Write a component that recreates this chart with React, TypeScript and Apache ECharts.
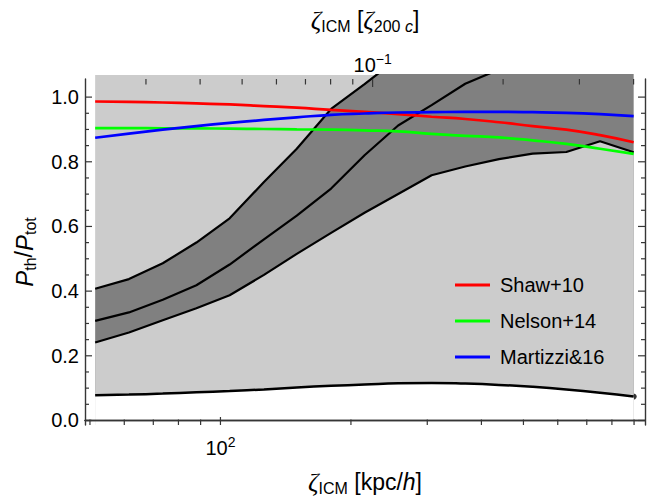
import React, { useEffect, useRef } from 'react';
import * as echarts from 'echarts';

const FONT = 'Liberation Sans, Arial, Helvetica, sans-serif';
const SERIF = 'Liberation Serif, Times New Roman, serif';
const INK = '#000000';
const FRAME = '#363636';
const LIGHT = '#cccccc';
const DARK = '#808080';

// conversion between the two abscissae: zeta / zeta_200c = r[kpc/h] / R200
const R200 = 2244;
// visible abscissa range (kpc/h) and ordinate range of the frame
const X_RANGE = [48.7, 953.7];
const Y_RANGE = [-0.014, 1.056];
// the shaded regions and curves are clipped slightly above the frame
const Y_CLIP_TOP = 1.068;

// radial sampling of the profiles (kpc/h)
const radiusKpc = [51.4, 61.5, 73.6, 88.0, 105, 126, 150, 180, 215, 257, 307, 367, 439, 525, 628, 751, 898];

// envelope of the simulated profiles
const bandUpper = [0.407, 0.437, 0.486, 0.55, 0.625, 0.737, 0.84, 0.963, 1.04, 1.12, 1.2, 1.27, 1.33, 1.39, 1.44, 1.49, 1.54];
const bandMiddle = [0.308, 0.334, 0.373, 0.418, 0.482, 0.56, 0.633, 0.717, 0.82, 0.912, 0.975, 1.041, 1.085, 1.13, 1.17, 1.21, 1.25];
const bandLower = [0.241, 0.272, 0.31, 0.347, 0.387, 0.45, 0.515, 0.58, 0.642, 0.7, 0.758, 0.785, 0.808, 0.825, 0.83, 0.863, 0.829];
const floorCurve = [0.078, 0.08, 0.083, 0.087, 0.091, 0.096, 0.102, 0.107, 0.111, 0.115, 0.116, 0.114, 0.11, 0.104, 0.096, 0.086, 0.074];

// published fits
const shaw10 = [0.986, 0.985, 0.983, 0.98, 0.977, 0.972, 0.967, 0.96, 0.954, 0.947, 0.939, 0.932, 0.922, 0.91, 0.899, 0.882, 0.86];
const nelson14 = [0.904, 0.904, 0.903, 0.903, 0.902, 0.901, 0.9, 0.899, 0.897, 0.894, 0.886, 0.88, 0.875, 0.866, 0.855, 0.84, 0.824];
const martizzi16 = [0.874, 0.887, 0.899, 0.91, 0.92, 0.929, 0.937, 0.945, 0.949, 0.952, 0.953, 0.954, 0.954, 0.953, 0.951, 0.947, 0.941];

// ticks
const bottomMajor = [100];
const bottomMinor = [50, 60, 70, 80, 90, 200, 300, 400, 500, 600, 700, 800, 900];
const topMajor = [0.1];
const topMinor = [0.03, 0.04, 0.05, 0.06, 0.07, 0.08, 0.09, 0.2, 0.3, 0.4];
const yMajor = [0, 0.2, 0.4, 0.6, 0.8, 1.0];
const yMinor = [0.05, 0.1, 0.15, 0.25, 0.3, 0.35, 0.45, 0.5, 0.55, 0.65, 0.7, 0.75, 0.85, 0.9, 0.95];

const lg = Math.log10;

const powerLabel = (v: number) => {
  const e = Math.round(v);
  return `{b|10}{s|${e < 0 ? '\u2212' + -e : e}}`;
};

const tickRich = {
  b: { fontSize: 20, fontFamily: FONT, color: INK, lineHeight: 20 },
  s: { fontSize: 14, fontFamily: FONT, color: INK, lineHeight: 14, padding: [0, 0, 13, 0] },
};

const titleRich = {
  z: { fontSize: 26, fontFamily: SERIF, fontStyle: 'italic', color: INK, lineHeight: 26 },
  p: { fontSize: 24, fontFamily: FONT, fontStyle: 'italic', color: INK, lineHeight: 26 },
  t: { fontSize: 23, fontFamily: FONT, color: INK, lineHeight: 26 },
  ti: { fontSize: 23, fontFamily: FONT, fontStyle: 'italic', color: INK, lineHeight: 26 },
  sub: { fontSize: 16, fontFamily: FONT, color: INK, lineHeight: 16, padding: [12, 0, 0, 0] },
  subi: { fontSize: 16, fontFamily: FONT, fontStyle: 'italic', color: INK, lineHeight: 16, padding: [12, 0, 0, 0] },
};

const frameLine = { show: true, lineStyle: { color: FRAME, width: 1.4 } };
const hidden = { show: false };

function buildOption() {
  const xs = radiusKpc.map(lg);
  const pts = (ys: number[]) => xs.map((x, i) => [x, ys[i]]);
  const xMin = lg(X_RANGE[0]);
  const xMax = lg(X_RANGE[1]);
  const zMin = lg(X_RANGE[0] / R200);
  const zMax = lg(X_RANGE[1] / R200);

  const blackLine = { color: INK, width: 2.2 };

  // inward frame ticks: [x, y, dx, dy] in axis units + pixel offsets
  const tickData = [
    ...bottomMajor.map((v) => [lg(v), Y_RANGE[0], 0, -8]),
    ...bottomMinor.map((v) => [lg(v), Y_RANGE[0], 0, -5.5]),
    ...topMajor.map((v) => [lg(v * R200), Y_RANGE[1], 0, 8]),
    ...topMinor.map((v) => [lg(v * R200), Y_RANGE[1], 0, 5.5]),
    ...yMajor.map((v) => [xMin, v, 7, 0]),
    ...yMajor.map((v) => [xMax, v, -7, 0]),
    ...yMinor.map((v) => [xMin, v, 4, 0]),
    ...yMinor.map((v) => [xMax, v, -4, 0]),
  ];

  const area = (name: string, ys: number[], origin: string, color: string, line: any, smooth = false) => ({
    name,
    type: 'line',
    xAxisIndex: 4,
    yAxisIndex: 4,
    data: pts(ys),
    symbol: 'none',
    smooth,
    silent: true,
    lineStyle: line,
    areaStyle: { color, opacity: 1, origin },
  });

  const curve = (name: string, ys: number[], color: string, width: number, smooth: boolean) => ({
    name,
    type: 'line',
    xAxisIndex: 4,
    yAxisIndex: 4,
    data: pts(ys),
    symbol: 'none',
    smooth,
    silent: true,
    color,
    lineStyle: { color, width },
  });

  return {
    animation: false,
    backgroundColor: '#ffffff',
    grid: [
      { left: 85, right: 22, top: 79, bottom: 78 },
      { left: 85, right: 22, top: 75, bottom: 78 },
    ],
    legend: {
      data: ['Shaw+10', 'Nelson+14', 'Martizzi&16'],
      orient: 'vertical',
      left: 455,
      top: 275,
      padding: 0,
      itemWidth: 35,
      itemHeight: 3,
      itemGap: 16,
      icon: 'rect',
      selectedMode: false,
      textStyle: { fontSize: 20, fontFamily: FONT, color: INK, lineHeight: 20, padding: [0, 0, 0, 5] },
    },
    xAxis: [
      {
        type: 'value', gridIndex: 0, position: 'bottom', min: xMin, max: xMax, z: 10,
        axisLine: frameLine,
        axisTick: hidden,
        axisLabel: { show: true, margin: 13, customValues: bottomMajor.map(lg), formatter: powerLabel, rich: tickRich },
        splitLine: hidden,
        name: '{z|\u03b6}{sub|ICM}{t| [kpc/}{ti|h}{t|]}',
        nameLocation: 'middle',
        nameGap: 44,
        nameTextStyle: { rich: titleRich },
      },
      {
        type: 'value', gridIndex: 0, position: 'top', min: zMin, max: zMax, z: 10,
        axisLine: frameLine,
        axisTick: hidden,
        axisLabel: { show: true, margin: 4, customValues: topMajor.map(lg), formatter: powerLabel, rich: tickRich },
        splitLine: hidden,
        name: '{z|\u03b6}{sub|ICM}{t| [}{z|\u03b6}{sub|200 }{subi|c}{t|]}',
        nameLocation: 'middle',
        nameGap: 46,
        nameTextStyle: { rich: titleRich },
      },
      { type: 'value', gridIndex: 0, min: xMin, max: xMax, show: false },
      { type: 'value', gridIndex: 0, min: xMin, max: xMax, show: false },
      { type: 'value', gridIndex: 1, min: xMin, max: xMax, show: false },
    ],
    yAxis: [
      {
        type: 'value', gridIndex: 0, position: 'left', min: Y_RANGE[0], max: Y_RANGE[1], z: 10,
        axisLine: frameLine,
        axisTick: hidden,
        axisLabel: {
          show: true, margin: 6, customValues: yMajor,
          formatter: (v: number) => v.toFixed(1),
          fontSize: 20, fontFamily: FONT, color: INK,
        },
        splitLine: hidden,
        name: '{p|P}{sub|th}{t|/}{p|P}{sub|tot}',
        nameLocation: 'middle',
        nameRotate: 90,
        nameGap: 48,
        nameTextStyle: { rich: titleRich },
      },
      {
        type: 'value', gridIndex: 0, position: 'right', min: Y_RANGE[0], max: Y_RANGE[1], z: 10,
        axisLine: frameLine,
        axisTick: hidden,
        axisLabel: hidden,
        splitLine: hidden,
      },
      { type: 'value', gridIndex: 0, min: Y_RANGE[0], max: Y_RANGE[1], show: false },
      { type: 'value', gridIndex: 0, min: Y_RANGE[0], max: Y_RANGE[1], show: false },
      { type: 'value', gridIndex: 1, min: Y_RANGE[0], max: Y_CLIP_TOP, show: false },
    ],
    series: [
      // light region above the envelope
      area('aboveBand', bandUpper, 'end', LIGHT, { width: 0, opacity: 0 }),
      // dark envelope, its upper edge drawn in black
      area('band', bandUpper, 'start', DARK, blackLine),
      // light region between the floor and the envelope
      area('belowBand', bandLower, 'start', LIGHT, blackLine),
      // white below the floor curve
      area('floor', floorCurve, 'start', '#ffffff', { color: INK, width: 2.5 }, true),
      curve('median', bandMiddle, INK, 2.2, false),
      {
        name: 'floorEnd',
        type: 'scatter',
        xAxisIndex: 4,
        yAxisIndex: 4,
        silent: true,
        symbol: 'circle',
        symbolSize: 6,
        itemStyle: { color: INK },
        data: [[xs[xs.length - 1], floorCurve[floorCurve.length - 1]]],
        clip: false,
      },
      curve('Shaw+10', shaw10, '#ff0000', 2.7, true),
      curve('Nelson+14', nelson14, '#00ff00', 2.7, true),
      curve('Martizzi&16', martizzi16, '#0000ff', 2.7, true),
      {
        name: 'frameTicks',
        type: 'custom',
        xAxisIndex: 0,
        yAxisIndex: 0,
        silent: true,
        clip: false,
        z: 10,
        data: tickData,
        renderItem: (_params: any, api: any) => {
          const p = api.coord([api.value(0), api.value(1)]);
          return {
            type: 'line',
            shape: { x1: p[0], y1: p[1], x2: p[0] + api.value(2), y2: p[1] + api.value(3) },
            style: { stroke: FRAME, lineWidth: 1.2 },
          };
        },
      },
    ],
  };
}

export default function App() {
  const ref = useRef<HTMLDivElement>(null);
  useEffect(() => {
    if (!ref.current) return;
    const chart = echarts.init(ref.current, undefined, { renderer: 'svg' });
    chart.setOption(buildOption() as any);
    return () => chart.dispose();
  }, []);
  return (
    <div
      ref={ref}
      style={{ position: 'fixed', left: 0, top: 0, width: 667, height: 503, background: '#ffffff' }}
    />
  );
}
